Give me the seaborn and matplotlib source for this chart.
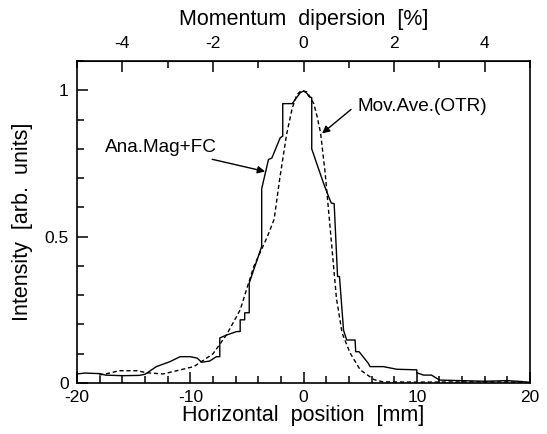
import numpy as np
import pandas as pd
import seaborn as sns
import matplotlib
matplotlib.use("Agg")
import matplotlib.pyplot as plt
from matplotlib.ticker import MultipleLocator

# Ana.Mag+FC (step-like profile)
x_ana = [-20, -19.3, -18, -17.5, -16, -14.5, -14.0, -13.0, -11.8, -10.9, -10.0, -9.4, -9.0, -8.3,
         -7.7, -7.4, -7.4, -6.8, -5.9, -5.6, -5.6, -5.2, -5.2, -4.8, -4.8, -3.7, -3.7, -3.1, -2.8,
         -2.07, -1.84, -1.84, -1.0, -0.3, 0.0, 0.3, 0.45, 0.72, 0.72, 1.75, 2.2, 2.45, 2.7, 3.0,
         3.17, 3.53, 3.81, 4.55, 4.6, 4.9, 5.72, 5.87, 7.05, 8.23, 10.0, 10.0, 10.6, 11.3, 12.0,
         14.0, 16.0, 18.0, 19.3, 20.0]
y_ana = [0.031, 0.034, 0.032, 0.027, 0.025, 0.026, 0.030, 0.056, 0.073, 0.090, 0.090, 0.085, 0.071, 0.075,
         0.090, 0.090, 0.154, 0.164, 0.176, 0.176, 0.216, 0.216, 0.240, 0.240, 0.342, 0.467, 0.664, 0.764, 0.769,
         0.838, 0.844, 0.955, 0.955, 0.992, 0.998, 0.990, 0.980, 0.975, 0.800, 0.684, 0.638, 0.615, 0.613, 0.364,
         0.364, 0.180, 0.147, 0.147, 0.107, 0.107, 0.067, 0.056, 0.056, 0.047, 0.045, 0.035, 0.027, 0.027, 0.010,
         0.008, 0.006, 0.008, 0.005, 0.0]

# Mov.Ave.(OTR) (smooth profile)
x_otr = [-18.06, -17.0, -16.3, -14.7, -13.85, -12.4, -11.2, -9.7, -9.1, -8.0, -6.8, -5.6, -4.4, -3.2,
         -2.6, -2.1, -1.5, -1.0, -0.6, -0.2, 0.3, 0.9, 1.2, 1.5, 1.9, 2.3, 2.6, 2.9, 3.4, 4.1,
         5.0, 6.2, 7.0, 10.0, 15.0, 20.0]
y_otr = [0.027, 0.035, 0.042, 0.042, 0.035, 0.031, 0.042, 0.056, 0.071, 0.100, 0.165, 0.250, 0.398, 0.500,
         0.560, 0.700, 0.850, 0.940, 0.985, 1.000, 0.995, 0.955, 0.910, 0.855, 0.720, 0.550, 0.420, 0.290,
         0.171, 0.103, 0.045, 0.012, 0.004, 0.003, 0.004, 0.003]

sns.set_style("ticks")
plt.rcParams['font.family'] = ['Liberation Sans', 'DejaVu Sans']
plt.rcParams['axes.unicode_minus'] = False
for k in ['text.color', 'axes.labelcolor', 'xtick.color', 'ytick.color', 'axes.edgecolor']:
    plt.rcParams[k] = 'black'

df_ana = pd.DataFrame({"x": x_ana, "y": y_ana})
df_otr = pd.DataFrame({"x": x_otr, "y": y_otr})

fig = plt.figure(figsize=(5.47, 4.34), dpi=100)
ax = fig.add_axes([0.141, 0.1175, 0.828, 0.7415])

sns.lineplot(data=df_ana, x="x", y="y", sort=False, estimator=None, color="black", lw=1.0, ax=ax)
sns.lineplot(data=df_otr, x="x", y="y", sort=False, estimator=None, color="black", lw=1.0,
             linestyle=(0, (3, 2)), ax=ax)

ax.set_xlim(-20, 20)
ax.set_ylim(0, 1.1)
ax.set_xticks([-20, -10, 0, 10, 20])
ax.xaxis.set_minor_locator(MultipleLocator(2))
ax.set_yticks([0, 0.5, 1])
ax.set_yticklabels(["0", "0.5", "1"])
ax.yaxis.set_minor_locator(MultipleLocator(0.1))
ax.tick_params(which="major", direction="in", length=8, width=1.1, labelsize=12.5)
ax.tick_params(which="minor", direction="in", length=5, width=1.1)
ax.tick_params(axis="x", which="major", pad=5)
ax.tick_params(axis="y", which="major", pad=6)
ax.tick_params(axis="x", top=False)
for s in ax.spines.values():
    s.set_linewidth(1.2)
    s.set_visible(True)

ax.set_xlabel("Horizontal  position  [mm]", fontsize=15.5, labelpad=0)
ax.set_ylabel("Intensity  [arb.  units]", fontsize=15.5, labelpad=8)

sec = ax.secondary_xaxis("top", functions=(lambda x: x / 4, lambda m: m * 4))
sec.set_xticks([-4, -2, 0, 2, 4])
sec.xaxis.set_minor_locator(MultipleLocator(1))
sec.tick_params(which="major", direction="in", length=8, width=1.1, labelsize=12.5, pad=7)
sec.tick_params(which="minor", direction="in", length=5, width=1.1)
sec.set_xlabel("Momentum  dipersion  [%]", fontsize=15.5, labelpad=8)

arrow = dict(arrowstyle="-|>", color="black", lw=1.0, mutation_scale=11, shrinkA=0, shrinkB=0)
ax.annotate("Ana.Mag+FC", xy=(-3.4, 0.723), xytext=(-7.64, 0.805), fontsize=13.7,
            ha="right", va="center", arrowprops=arrow)
ax.annotate("", xy=(1.63, 0.853), xytext=(4.19, 0.935), arrowprops=arrow)
ax.text(4.72, 0.945, "Mov.Ave.(OTR)", fontsize=13.7, ha="left", va="center")

fig.savefig("out.png", dpi=100)
